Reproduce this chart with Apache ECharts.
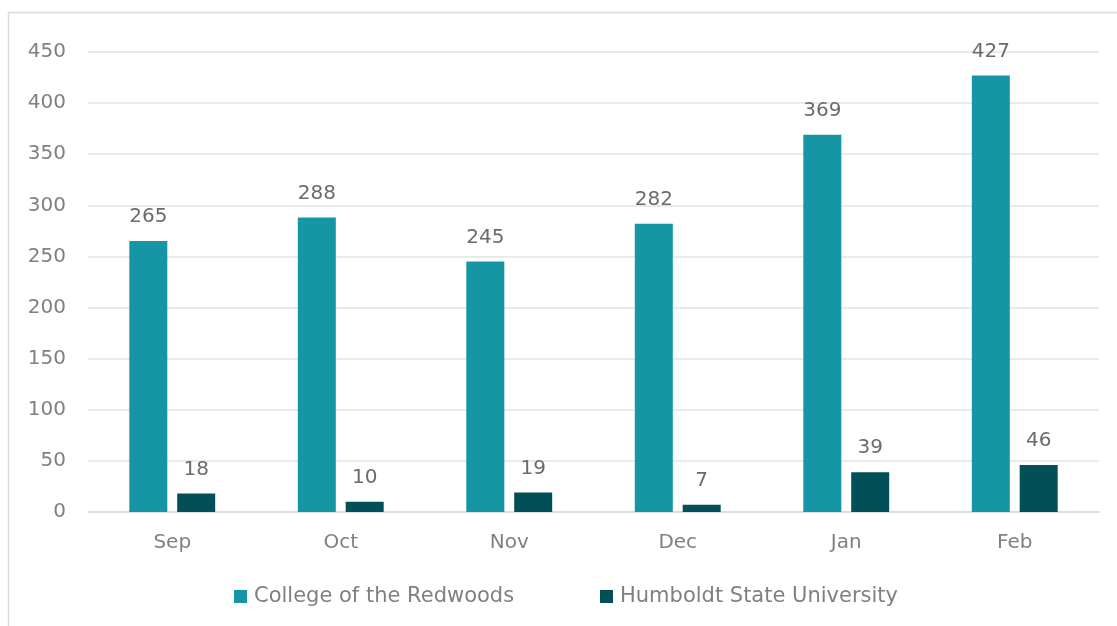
<!DOCTYPE html>
<html>
<head>
<meta charset="utf-8">
<script src="https://cdn.jsdelivr.net/npm/echarts@6/dist/echarts.min.js"></script>
<style>
html,body{margin:0;padding:0;background:#fff;}
#chart{width:1117px;height:626px;}
</style>
</head>
<body>
<div id="chart"></div>
<script>
const categories = ['Sep','Oct','Nov','Dec','Jan','Feb'];
const seriesNames = ['College of the Redwoods','Humboldt State University'];
const redwoods = [265,288,245,282,369,427];
const humboldt = [18,10,19,7,39,46];
const yTicks = {min:0,max:450,interval:50};

const FONT = '"DejaVu Sans", sans-serif';
const legendText = {fontFamily:FONT,fontSize:21,color:'#808080',padding:[0,0,0,2]};
const chart = echarts.init(document.getElementById('chart'));
chart.setOption({
  animation:false,
  textStyle:{fontFamily:FONT},
  graphic:[{type:'rect',shape:{x:8.5,y:12.5,width:1200,height:700},style:{fill:'none',stroke:'#d9d9d9',lineWidth:1.5},silent:true,z:-1}],
  grid:{left:88,right:18,top:52,bottom:114},
  legend:[
    {data:[seriesNames[0]],top:581,left:229,itemWidth:13,itemHeight:13,icon:'rect',textStyle:legendText},
    {data:[seriesNames[1]],top:581,left:595,itemWidth:13,itemHeight:13,icon:'rect',textStyle:legendText}
  ],
  xAxis:{
    type:'category',data:categories,
    axisLine:{lineStyle:{color:'#d9d9d9',width:1.5}},
    axisTick:{show:false},
    axisLabel:{color:'#808080',fontSize:20,margin:21,fontFamily:FONT}
  },
  yAxis:{
    type:'value',min:yTicks.min,max:yTicks.max,interval:yTicks.interval,
    axisLine:{show:false},axisTick:{show:false},
    splitLine:{lineStyle:{color:'#e3e3e3',width:1.5}},
    axisLabel:{color:'#808080',fontSize:20,margin:22,fontFamily:FONT}
  },
  series:[
    {name:seriesNames[0],type:'bar',data:redwoods,barWidth:38,barGap:'26%',
     itemStyle:{color:'#1696a4'},
     label:{show:true,position:'top',distance:14,color:'#6b6b6b',fontSize:20,fontFamily:FONT}},
    {name:seriesNames[1],type:'bar',data:humboldt,barWidth:38,barGap:'26%',
     itemStyle:{color:'#034f57'},
     label:{show:true,position:'top',distance:14,color:'#6b6b6b',fontSize:20,fontFamily:FONT}}
  ]
});
</script>
</body>
</html>
